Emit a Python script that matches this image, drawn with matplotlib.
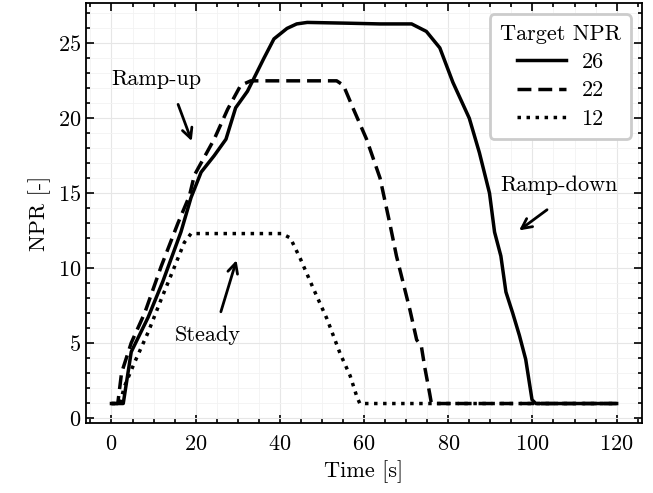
import numpy as np
import matplotlib
matplotlib.use('Agg')
import matplotlib.pyplot as plt
from matplotlib.ticker import MultipleLocator

t26 = [0, 2.8, 4.7, 8.7, 12.2, 16.5, 18.9, 21.3, 24.4, 27.2, 29.5, 32.3, 33.9, 36.2, 38.6, 41.7,
       44.0, 46.5, 55.9, 63.8, 71.3, 74.8, 78.0, 81.1, 85.0, 87.4, 89.8, 91.0, 92.5, 93.7, 95.3, 96.9,
       98.4, 99.9, 100.8, 120]
npr26 = [0.95, 0.95, 4.4, 6.7, 9.1, 12.4, 14.7, 16.4, 17.5, 18.6, 20.7, 21.8, 22.7, 24.0, 25.3, 26.0,
         26.3, 26.4, 26.35, 26.3, 26.3, 25.8, 24.7, 22.4, 20.0, 17.7, 15.0, 12.4, 10.8, 8.4, 7.0, 5.5,
         3.9, 1.2, 0.95, 0.95]

t22 = [0, 1.5, 2.4, 4.7, 7.9, 11.8, 15.8, 18.5, 19.7, 24.4, 27.6, 30.7, 33.1, 53.5, 55.1, 57.5,
       60.6, 63.8, 66.1, 67.7, 69.3, 70.9, 72.5, 73.6, 74.4, 75.6, 76.0, 120]
npr22 = [0.95, 0.95, 3.0, 5.0, 7.0, 10.1, 13.0, 14.8, 16.2, 18.6, 20.6, 22.2, 22.5, 22.5, 22.2, 20.6,
         18.6, 16.0, 13.0, 10.8, 9.0, 7.2, 5.2, 4.8, 3.4, 1.6, 0.95, 0.95]

t12 = [0, 2.0, 3.1, 5.5, 8.7, 11.8, 15.0, 17.3, 18.9, 40.5, 42.5, 44.9, 48.0, 51.2, 54.3, 56.7,
       58.3, 59.0, 120]
npr12 = [0.95, 0.95, 2.1, 3.7, 5.7, 7.9, 10.1, 11.7, 12.3, 12.3, 12.0, 10.6, 8.6, 6.6, 4.3, 2.8,
         1.4, 0.95, 0.95]

labels = ['26', '22', '12']

plt.rcParams['font.family'] = 'serif'
plt.rcParams['font.serif'] = ['cmr10']
plt.rcParams['mathtext.fontset'] = 'cm'
plt.rcParams['axes.unicode_minus'] = False
plt.rcParams['axes.formatter.use_mathtext'] = True
plt.rcParams['font.size'] = 16

fig = plt.figure(figsize=(6.53, 4.93), dpi=100)
ax = fig.add_axes([0.132, 0.142, 0.851, 0.852])

lw = 2.5
ax.plot(t26, npr26, color='black', lw=lw, ls='-', label=labels[0])
ax.plot(t22, npr22, color='black', lw=lw, ls=(0, (4, 2)), label=labels[1])
ax.plot(t12, npr12, color='black', lw=lw, ls=(0, (1, 1.6)), label=labels[2])

ax.set_xlim(-6, 126)
ax.set_ylim(-0.35, 27.7)
ax.xaxis.set_major_locator(MultipleLocator(20))
ax.xaxis.set_minor_locator(MultipleLocator(5))
ax.yaxis.set_major_locator(MultipleLocator(5))
ax.yaxis.set_minor_locator(MultipleLocator(1))
ax.tick_params(which='both', direction='in', top=True, right=True, width=1.2)
ax.tick_params(which='major', length=6)
ax.tick_params(which='minor', length=3)
ax.tick_params(axis='x', pad=8)
for s in ax.spines.values():
    s.set_linewidth(1.3)
ax.grid(which='major', color='#e6e6e6', lw=0.8)
ax.grid(which='minor', color='#f2f2f2', lw=0.6)
ax.set_axisbelow(True)

ax.set_xlabel('Time [s]', labelpad=5)
ax.set_ylabel('NPR [-]', labelpad=5)

arrow = dict(arrowstyle='->', color='black', lw=2, mutation_scale=18)
ax.annotate('', xy=(19.3, 18.3), xytext=(15.6, 21.1), arrowprops=arrow)
ax.text(10.6, 22.6, 'Ramp-up', ha='center', va='center')
ax.annotate('', xy=(29.9, 10.7), xytext=(25.8, 6.9), arrowprops=arrow)
ax.text(22.8, 5.5, 'Steady', ha='center', va='center')
ax.annotate('', xy=(96.3, 12.4), xytext=(104.0, 14.0), arrowprops=arrow)
ax.text(106.3, 15.5, 'Ramp-down', ha='center', va='center')

leg = ax.legend(title='Target NPR', loc='upper right', fancybox=True, framealpha=1,
                edgecolor='#cccccc', handlelength=2.2, handletextpad=0.7, borderpad=0.45,
                labelspacing=0.4, borderaxespad=0.5)
leg.get_frame().set_linewidth(2)

fig.savefig('out.png', dpi=100)
